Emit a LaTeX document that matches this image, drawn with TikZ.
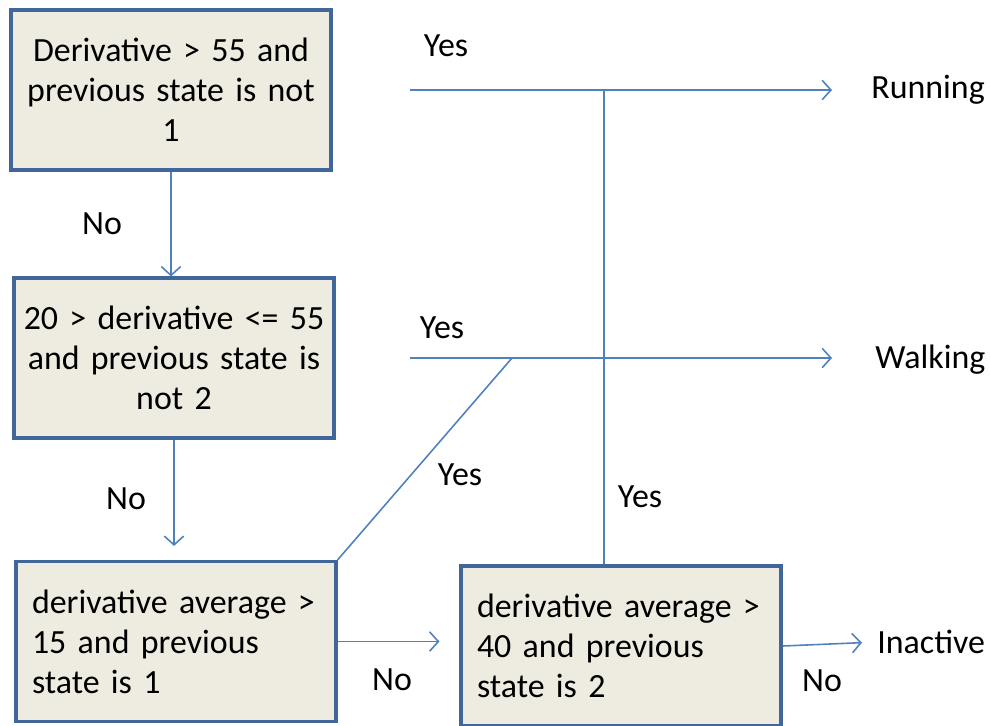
\documentclass[tikz,border=0pt]{standalone}
\usepackage{fontspec}
\setmainfont{Carlito}
\usetikzlibrary{arrows.meta}
\hyphenpenalty=10000
\definecolor{boxfill}{HTML}{EEECE1}
\definecolor{boxline}{HTML}{41679A}
\definecolor{flowline}{HTML}{4F81BD}
\newcommand\boxfont{\fontsize{19.3}{22.7}\selectfont\spaceskip=0.23em\relax}
\tikzset{
  cond/.style={draw=boxline, line width=1.8pt, fill=boxfill, minimum width=6.4cm,
    minimum height=3.2cm, text width=5.76cm, inner sep=0.32cm, font=\boxfont},
  midcond/.style={cond, align=center, text width=6.2cm, inner xsep=0.1cm},
  leftcond/.style={cond, align=left},
  lbl/.style={font=\boxfont, inner sep=0pt},
  flow/.style={draw=flowline, line width=0.9pt},
  flowarrow/.style={flow, -{Straight Barb[length=5pt,width=11pt,line width=0.9pt]}}
}
\begin{document}
\begin{tikzpicture}[x=0.02cm, y=-0.02cm]
\useasboundingbox (0,0) rectangle (990,725);
% decision boxes
\node[midcond] (deriv) at (171,90) {Derivative > 55 and\\ previous state is not\\ 1};
\node[midcond] (walkcheck) at (174,358) {20 > derivative <= 55\\ and previous state is\\ not 2};
\node[leftcond] (avgone) at (176,641.5) {derivative average >\\ 15 and previous\\ state is 1};
\node[leftcond] (avgtwo) at (621,646) {derivative average >\\ 40 and previous\\ state is 2};
% outcomes
\node[lbl, anchor=west] (running) at (871,90) {Running};
\node[lbl, anchor=west] (walking) at (875,360) {Walking};
\node[lbl, anchor=west] (inactive) at (877,642) {Inactive};
\coordinate (runstart) at (410,90);
\coordinate (runjoin) at (604,90);
\coordinate (walkstart) at (410,358);
\coordinate (walkjoin) at (512,358);
% connectors
\draw[flowarrow] (deriv.south) -- (deriv.south |- walkcheck.north);
\draw[flowarrow, shorten >=0.28cm] (walkcheck.south) -- (walkcheck.south |- avgone.north);
\draw[flowarrow, shorten >=0.4cm] (avgone.east) -- (avgone.east -| avgtwo.west);
\draw[flowarrow, shorten >=0.3cm] (avgtwo.east) -- (inactive.west);
\draw[flowarrow, shorten >=0.78cm] (runstart) -- (running.west |- runstart);
\draw[flowarrow, shorten >=0.86cm] (walkstart) -- (walking.west |- walkstart);
\draw[flow] (avgtwo.north -| runjoin) -- (runjoin);
\draw[flow] (avgone.north east) -- (walkjoin);
% edge labels
\node[lbl] (yesrun) at (446,46) {Yes};
\node[lbl] (nofirst) at (102,224) {No};
\node[lbl] (yeswalk) at (442,328) {Yes};
\node[lbl] (nosecond) at (126,499) {No};
\node[lbl] (yesdiag) at (460,475) {Yes};
\node[lbl] (yesvert) at (640,497) {Yes};
\node[lbl] (nothird) at (392,680) {No};
\node[lbl] (nofourth) at (822,681) {No};
\end{tikzpicture}
\end{document}
